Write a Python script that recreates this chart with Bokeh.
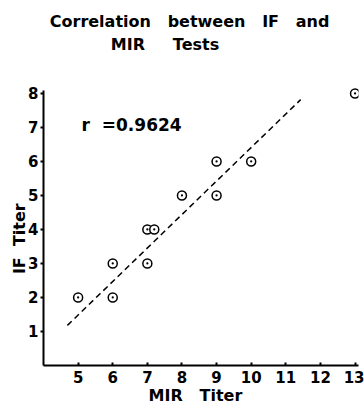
from bokeh.plotting import figure
from bokeh.models import Range1d, Label, FixedTicker
from bokeh.embed import file_html
from bokeh.resources import INLINE

mir = [5, 6, 6, 7, 7, 7.2, 8, 9, 9, 10, 13]
if_titer = [2, 3, 2, 3, 4, 4, 5, 6, 5, 6, 8]
fit_x = [4.69, 11.43]
fit_y = [1.18, 7.82]
x_ticks = [5, 6, 7, 8, 9, 10, 11, 12, 13]
y_ticks = [1, 2, 3, 4, 5, 6, 7, 8]
title_line1 = "Correlation\u00a0\u00a0\u00a0between\u00a0\u00a0\u00a0IF\u00a0\u00a0\u00a0and"
title_line2 = "MIR\u00a0\u00a0\u00a0\u00a0\u00a0Tests"
x_label = "MIR\u00a0\u00a0\u00a0Titer"
y_label = "IF\u00a0\u00a0Titer"
r_label = "r\u00a0\u00a0=0.9624"

FONT = "DejaVu Sans"

p = figure(width=364, height=407, output_backend="svg", toolbar_location=None,
           x_range=Range1d(4, 13.1), y_range=Range1d(0, 10.735),
           min_border_left=43, min_border_right=6, min_border_top=0, min_border_bottom=42)
p.outline_line_color = None
p.grid.visible = False
p.background_fill_color = "white"

for ax in (p.xaxis[0], p.yaxis[0]):
    ax.axis_line_width = 2
    ax.axis_line_color = "black"
    ax.major_tick_line_width = 2
    ax.major_tick_line_color = "black"
    ax.minor_tick_line_color = None
    ax.major_label_text_font = FONT
    ax.major_label_text_font_style = "bold"
    ax.major_label_text_font_size = "15px"
    ax.major_label_text_color = "black"
    ax.axis_label_text_font = FONT
    ax.axis_label_text_font_style = "bold"
    ax.axis_label_text_font_size = "16px"
    ax.axis_label_text_color = "black"

p.yaxis.bounds = (0, 8.1)
p.xaxis.ticker = FixedTicker(ticks=x_ticks)
p.yaxis.ticker = FixedTicker(ticks=y_ticks)
p.xaxis.major_tick_in = 3
p.xaxis.major_tick_out = 0
p.yaxis.major_tick_in = 0
p.yaxis.major_tick_out = 3
p.xaxis.major_label_standoff = 5
p.yaxis.major_label_standoff = 2
# trailing no-break spaces shift the labels to sit where the reference puts them
p.xaxis.axis_label = x_label + "\u00a0" * 2
p.yaxis.axis_label = y_label + "\u00a0" * 20
p.xaxis.axis_label_standoff = 0
p.yaxis.axis_label_standoff = -4

p.line(fit_x, fit_y, line_color="black", line_width=1.5, line_dash="6 4")
p.scatter(mir, if_titer, marker="circle_dot", size=9, line_color="black",
          line_width=1.5, fill_color="white")

p.add_layout(Label(x=5.1, y=7.06, text=r_label, text_font=FONT,
                   text_font_style="bold", text_font_size="17px",
                   text_baseline="middle", text_color="black"))

p.add_layout(Label(x=8.22, y=10.12, text=title_line1, text_font=FONT,
                   text_font_style="bold", text_font_size="16px",
                   text_align="center", text_baseline="middle", text_color="black"))
p.add_layout(Label(x=7.51, y=9.44, text=title_line2, text_font=FONT,
                   text_font_style="bold", text_font_size="16px",
                   text_align="center", text_baseline="middle", text_color="black"))

open("out.html", "w").write(file_html(p, INLINE))
